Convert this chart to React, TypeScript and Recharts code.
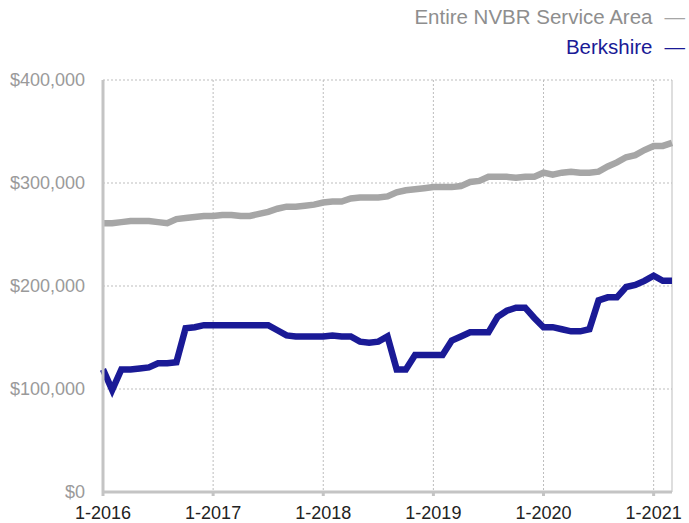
import {
  LineChart,
  Line,
  XAxis,
  YAxis,
  CartesianGrid,
  ReferenceLine,
} from 'recharts'

const FONT = '"Liberation Sans", Arial, Helvetica, sans-serif'

const years = [2016, 2017, 2018, 2019, 2020, 2021]
// monthly labels, 1-2016 .. 3-2021
const months = years.flatMap((y) =>
  Array.from({ length: 12 }, (_, m) => `${m + 1}-${y}`)
).slice(0, 63)

const yearTicks = years.map((y) => `1-${y}`)

const nvbr = [
  261000, 261000, 262000, 263000, 263000, 263000, 262000, 261000, 265000, 266000, 267000, 268000,
  268000, 269000, 269000, 268000, 268000, 270000, 272000, 275000, 277000, 277000, 278000, 279000,
  281000, 282000, 282000, 285000, 286000, 286000, 286000, 287000, 291000, 293000, 294000, 295000,
  296000, 296000, 296000, 297000, 301000, 302000, 306000, 306000, 306000, 305000, 306000, 306000,
  310000, 308000, 310000, 311000, 310000, 310000, 311000, 316000, 320000, 325000, 327000, 332000,
  336000, 336000, 339000,
]

const berkshire = [
  119000, 99000, 119000, 119000, 120000, 121000, 125000, 125000, 126000, 159000, 160000, 162000,
  162000, 162000, 162000, 162000, 162000, 162000, 162000, 157000, 152000, 151000, 151000, 151000,
  151000, 152000, 151000, 151000, 146000, 145000, 146000, 151000, 119000, 119000, 133000, 133000,
  133000, 133000, 147000, 151000, 155000, 155000, 155000, 170000, 176000, 179000, 179000, 169000,
  160000, 160000, 158000, 156000, 156000, 158000, 186000, 189000, 189000, 199000, 201000, 205000,
  210000, 205000, 205000,
]

const yTicks = [0, 100000, 200000, 300000, 400000]

const seriesNames = ['Entire NVBR Service Area', 'Berkshire']
const lineColors = ['#a6a6a6', '#1a1a96']
const legendTextColors = ['#8e8e8e', '#1a1a96']

const data = months.map((m, i) => ({ month: m, nvbr: nvbr[i], berkshire: berkshire[i] }))

const fmtDollar = (v: number) => '$' + v.toLocaleString('en-US')

function LegendBox() {
  return (
    <div
      style={{
        position: 'absolute',
        top: 2,
        right: 4,
        fontFamily: FONT,
        fontSize: 20.5,
        textAlign: 'right',
        lineHeight: '30px',
        zIndex: 2,
      }}
    >
      {seriesNames.map((name, i) => (
        <div key={name} style={{ color: legendTextColors[i] }}>
          {name}
          <span style={{ color: lineColors[i], marginLeft: 12 }}>—</span>
        </div>
      ))}
    </div>
  )
}

export default function App() {
  return (
    <div style={{ position: 'absolute', left: 0, top: 0, width: 689, height: 523 }}>
      <LineChart
        width={689}
        height={523}
        data={data}
        margin={{ top: 80, right: 17, bottom: 0, left: 0 }}
      >
        <CartesianGrid stroke="#bdbdbd" strokeDasharray="2 2" />
        <XAxis
          dataKey="month"
          ticks={yearTicks}
          interval={0}
          height={31}
          axisLine={{ stroke: '#c4c4c4', strokeWidth: 3 }}
          tickLine={{ stroke: '#c4c4c4', strokeWidth: 3 }}
          tickSize={4}
          tickMargin={10}
          tick={{ fill: '#222', fontSize: 18, fontFamily: FONT }}
        />
        <YAxis
          domain={[0, 400000]}
          ticks={yTicks}
          width={103}
          axisLine={{ stroke: '#c4c4c4', strokeWidth: 3 }}
          tickLine={false}
          tickSize={0}
          tickMargin={18}
          tickFormatter={fmtDollar}
          tick={{ fill: '#9a9a9a', fontSize: 18, fontFamily: FONT }}
        />
        <ReferenceLine x={months[months.length - 1]} stroke="#bdbdbd" strokeDasharray="2 2" />
        <Line
          name={seriesNames[0]}
          dataKey="nvbr"
          stroke={lineColors[0]}
          strokeWidth={6.5}
          dot={false}
          isAnimationActive={false}
        />
        <Line
          name={seriesNames[1]}
          dataKey="berkshire"
          stroke={lineColors[1]}
          strokeWidth={6.5}
          dot={false}
          isAnimationActive={false}
        />
      </LineChart>
      <LegendBox />
    </div>
  )
}
